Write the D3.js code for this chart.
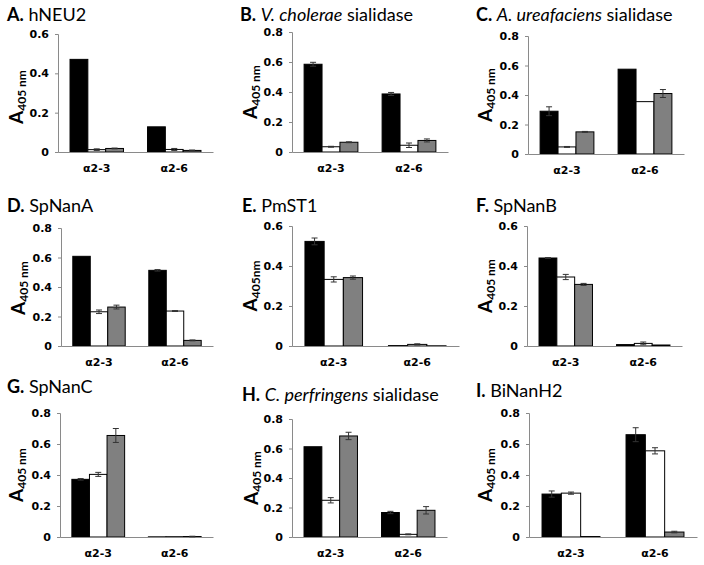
<!DOCTYPE html>
<html>
<head>
<meta charset="utf-8">
<script src="https://cdn.jsdelivr.net/npm/d3@7"></script>
<style>
  html, body { margin: 0; padding: 0; background: #fff; }
  svg { display: block; }
</style>
</head>
<body>
<svg id="chart" width="704" height="565"></svg>
<script>
// ---------------- DATA ----------------
const categories = ["α2-3", "α2-6"];
const seriesFills = ["#000000", "#ffffff", "#808080"];

const panelLetters = ["A.", "B.", "C.", "D.", "E.", "F.", "G.", "H.", "I."];
const panelItalic  = ["", "V. cholerae", "A. ureafaciens", "", "", "", "", "C. perfringens", ""];
const panelNames   = ["hNEU2", " sialidase", " sialidase", "SpNanA", "PmST1", "SpNanB", "SpNanC", " sialidase", "BiNanH2"];
const yLabelSubs   = ["405 nm", "405 nm", "405 nm", "405 nm", "405nm", "405 nm", "405 nm", "405 nm", "405 nm"];
const yMaxes       = [0.6, 0.8, 0.8, 0.8, 0.6, 0.6, 0.8, 0.8, 0.8];
const tickStep     = 0.2;

// values per panel: [category][series]  (black, white, grey)
const valuesA = [[0.471, 0.012, 0.018], [0.128, 0.013, 0.008]];
const errorsA = [[0.000, 0.004, 0.002], [0.000, 0.005, 0.002]];
const valuesB = [[0.585, 0.035, 0.065], [0.387, 0.045, 0.077]];
const errorsB = [[0.013, 0.003, 0.003], [0.010, 0.015, 0.010]];
const valuesC = [[0.290, 0.048, 0.150], [0.575, 0.355, 0.410]];
const errorsC = [[0.030, 0.003, 0.003], [0.000, 0.000, 0.027]];
const valuesD = [[0.608, 0.232, 0.264], [0.513, 0.237, 0.038]];
const errorsD = [[0.000, 0.012, 0.013], [0.005, 0.003, 0.003]];
const valuesE = [[0.523, 0.333, 0.342], [0.002, 0.008, 0.001]];
const errorsE = [[0.017, 0.013, 0.008], [0.000, 0.003, 0.000]];
const valuesF = [[0.440, 0.345, 0.308], [0.007, 0.013, 0.005]];
const errorsF = [[0.002, 0.013, 0.005], [0.000, 0.007, 0.000]];
const valuesG = [[0.372, 0.404, 0.655], [0.001, 0.002, 0.003]];
const errorsG = [[0.005, 0.013, 0.045], [0.000, 0.000, 0.002]];
const valuesH = [[0.612, 0.249, 0.685], [0.166, 0.018, 0.181]];
const errorsH = [[0.000, 0.018, 0.025], [0.008, 0.003, 0.025]];
const valuesI = [[0.277, 0.283, 0.003], [0.660, 0.556, 0.032]];
const errorsI = [[0.020, 0.007, 0.000], [0.045, 0.020, 0.005]];

const allValues = [valuesA, valuesB, valuesC, valuesD, valuesE, valuesF, valuesG, valuesH, valuesI];
const allErrors = [errorsA, errorsB, errorsC, errorsD, errorsE, errorsF, errorsG, errorsH, errorsI];

// ---------------- LAYOUT ----------------
const layout = [
  {x0: 58,  x1: 213, y0: 152, yTop: 34,  tx: 7,   ty: 21,  lx: 23,  ly: 97},
  {x0: 292, x1: 448, y0: 152, yTop: 32,  tx: 240, ty: 21,  lx: 257, ly: 92},
  {x0: 528, x1: 684, y0: 154, yTop: 36,  tx: 476, ty: 21,  lx: 492, ly: 95},
  {x0: 61,  x1: 213, y0: 346, yTop: 228, tx: 7,   ty: 212, lx: 25,  ly: 288},
  {x0: 292, x1: 459, y0: 346, yTop: 226, tx: 242, ty: 212, lx: 257, ly: 286},
  {x0: 527, x1: 682, y0: 346, yTop: 226, tx: 476, ty: 212, lx: 492, ly: 286},
  {x0: 60,  x1: 213, y0: 537, yTop: 413, tx: 7,   ty: 393, lx: 23,  ly: 475},
  {x0: 292, x1: 447, y0: 537, yTop: 419, tx: 242, ty: 401, lx: 258, ly: 478},
  {x0: 529, x1: 697, y0: 537, yTop: 413, tx: 476, ty: 397, lx: 492, ly: 475}
];

const axisColor = "#8a8a8a";
const tickFont = "'DejaVu Sans', sans-serif";
const titleFont = "Lato, 'Open Sans', sans-serif";

const svg = d3.select("#chart");

layout.forEach((L, i) => {
  const g = svg.append("g");
  const values = allValues[i], errors = allErrors[i];

  const x = d3.scaleBand().domain(categories).range([L.x0, L.x1]).paddingInner(0).paddingOuter(0);
  const xs = d3.scaleBand().domain([0, 1, 2]).range([0, x.bandwidth()]).paddingInner(0).paddingOuter(0.675);
  const y = d3.scaleLinear().domain([0, yMaxes[i]]).range([L.y0, L.yTop]);

  const ticks = d3.range(0, yMaxes[i] + 1e-9, tickStep);

  // y axis
  const yAxis = d3.axisLeft(y).tickValues(ticks).tickSize(3).tickPadding(6)
    .tickFormat(d => d === 0 ? "0" : d3.format(".1f")(d));
  const ya = g.append("g").attr("transform", `translate(${L.x0},0)`).call(yAxis);
  ya.select(".domain").attr("stroke", axisColor);
  ya.selectAll(".tick line").attr("stroke", axisColor);
  ya.selectAll(".tick text")
    .attr("fill", "#000").style("font-family", tickFont).style("font-weight", "bold").style("font-size", "11px");

  // bars
  categories.forEach((c, ci) => {
    values[ci].forEach((v, si) => {
      g.append("rect")
        .attr("x", x(c) + xs(si))
        .attr("y", y(v))
        .attr("width", xs.bandwidth())
        .attr("height", Math.max(0, y(0) - y(v)))
        .attr("fill", seriesFills[si])
        .attr("stroke", "#000")
        .attr("stroke-width", 1);
    });
  });

  // x axis (line only)
  const xAxis = d3.axisBottom(x).tickSize(0).tickPadding(12);
  const xa = g.append("g").attr("transform", `translate(0,${L.y0})`).call(xAxis);
  xa.select(".domain").attr("stroke", axisColor);
  xa.selectAll(".tick text")
    .attr("fill", "#000").style("font-family", tickFont).style("font-weight", "bold").style("font-size", "11px");

  // error bars
  categories.forEach((c, ci) => {
    values[ci].forEach((v, si) => {
      const e = errors[ci][si];
      if (e <= 0) return;
      const cx = x(c) + xs(si) + xs.bandwidth() / 2;
      const eg = g.append("g").attr("stroke", "#333").attr("stroke-width", 1);
      eg.append("line").attr("x1", cx).attr("x2", cx).attr("y1", y(v - e)).attr("y2", y(v + e));
      eg.append("line").attr("x1", cx - 3).attr("x2", cx + 3).attr("y1", y(v + e)).attr("y2", y(v + e));
      eg.append("line").attr("x1", cx - 3).attr("x2", cx + 3).attr("y1", y(v - e)).attr("y2", y(v - e));
    });
  });

  // title
  const t = g.append("text").attr("x", L.tx).attr("y", L.ty)
    .style("font-family", titleFont).style("font-size", "18px").attr("fill", "#000");
  t.append("tspan").text(panelLetters[i]).style("font-weight", "bold");
  t.append("tspan").text(" ");
  if (panelItalic[i]) t.append("tspan").text(panelItalic[i]).style("font-style", "italic");
  t.append("tspan").text(panelNames[i]);

  // y label
  const yl = g.append("text")
    .attr("transform", `translate(${L.lx},${L.ly}) rotate(-90)`)
    .attr("text-anchor", "middle")
    .style("font-family", titleFont).attr("fill", "#000");
  yl.append("tspan").text("A").style("font-weight", "bold").style("font-size", "19px");
  yl.append("tspan").text(yLabelSubs[i]).attr("dy", 3).style("font-size", "12px").style("font-weight", "bold");
});
</script>
</body>
</html>
